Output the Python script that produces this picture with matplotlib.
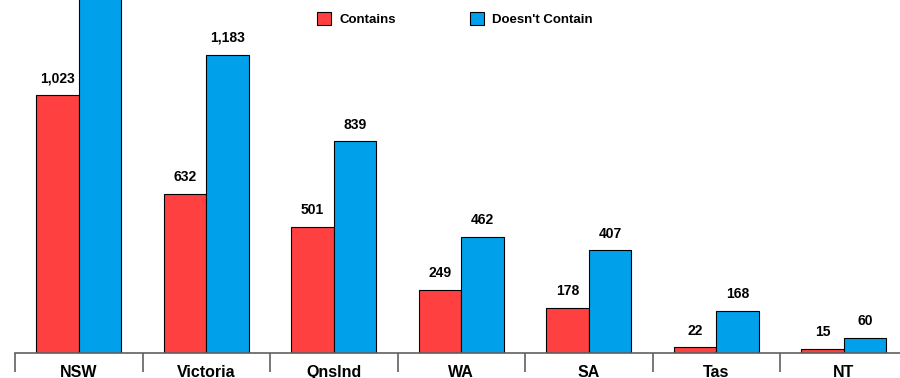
import matplotlib
matplotlib.use("Agg")
import matplotlib.pyplot as plt
from matplotlib.ticker import FixedLocator, NullFormatter
from matplotlib.patches import Patch

plt.rcParams['font.family'] = ['Liberation Sans', 'DejaVu Sans']

states = ["NSW", "Victoria", "Qnslnd", "WA", "SA", "Tas", "NT"]
contains = [1023, 632, 501, 249, 178, 22, 15]
doesnt_contain = [1650, 1183, 839, 462, 407, 168, 60]

red = "#FF4040"
blue = "#00A0EA"

fig = plt.figure(figsize=(9.0, 3.78), dpi=100)
ax = fig.add_axes([15 / 900, 25 / 378, 892.5 / 900, 353 / 378])

x = list(range(len(states)))
w = 1 / 3
ax.bar([i - w / 2 for i in x], contains, width=w, color=red,
       edgecolor="black", linewidth=0.8, label="Contains")
ax.bar([i + w / 2 for i in x], doesnt_contain, width=w, color=blue,
       edgecolor="black", linewidth=0.8, label="Doesn't Contain")

for i in x:
    for off, v in ((-w / 2, contains[i]), (w / 2, doesnt_contain[i])):
        ax.annotate(f"{v:,}", (i + off, v), xytext=(0, 7), textcoords="offset points",
                    ha="center", va="bottom", fontsize=10, fontweight="bold",
                    annotation_clip=True)

ax.set_xlim(-0.5, len(states) - 0.5)
ax.set_ylim(0, 1400)

for s in ("top", "right", "left"):
    ax.spines[s].set_visible(False)
ax.spines["bottom"].set_color("#606060")
ax.spines["bottom"].set_linewidth(1.2)
ax.set_yticks([])

ax.xaxis.set_major_locator(FixedLocator([i - 0.5 for i in range(len(states) + 1)]))
ax.xaxis.set_major_formatter(NullFormatter())
ax.xaxis.set_minor_locator(FixedLocator(x))
ax.set_xticklabels(states, minor=True, fontsize=11.5, fontweight="bold")
ax.tick_params(axis="x", which="major", direction="out", length=14, width=1.2, color="#606060")
ax.tick_params(axis="x", which="minor", length=0, pad=8.5)

handles = [Patch(facecolor=red, edgecolor="black", linewidth=0.8, label="Contains"),
           Patch(facecolor=blue, edgecolor="black", linewidth=0.8, label="Doesn't Contain")]
fig.legend(handles=handles, loc="upper left", bbox_to_anchor=(305 / 900, 1.0), ncol=2,
           frameon=False, prop={"size": 9.5, "weight": "bold"},
           handlelength=1.1, handleheight=1.1, columnspacing=5.6, handletextpad=0.6)

fig.savefig("out.png", dpi=100)
